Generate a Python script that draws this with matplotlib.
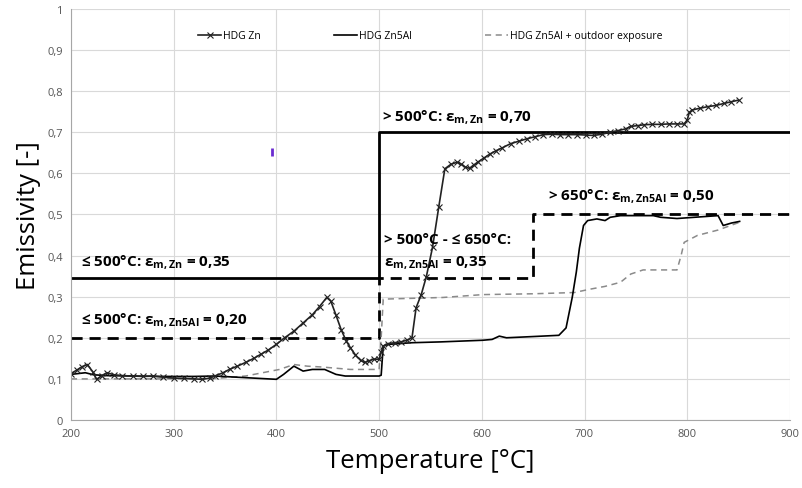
import numpy as np
import matplotlib.pyplot as plt

plt.rcParams['font.family'] = ['Open Sans', 'DejaVu Sans']
plt.rcParams['mathtext.fontset'] = 'custom'
plt.rcParams['mathtext.rm'] = 'Open Sans'
plt.rcParams['mathtext.bf'] = 'Open Sans:bold'

# HDG Zn (line with x markers)
zn_t = [200, 206, 211, 216, 221, 225, 230, 235, 242, 250, 260, 270, 280, 290, 300, 310, 320, 328,
        335, 340, 348, 355, 362, 370, 378, 385, 392, 400, 408, 417, 426, 435, 442, 449, 453, 458,
        463, 468, 472, 477, 482, 486, 490, 495, 500, 502, 504, 509, 515, 521, 527, 532, 536, 541,
        546, 552, 558, 564, 570, 576, 580, 584, 588, 592, 596, 602, 608, 614, 620, 628, 636, 644,
        652, 660, 668, 676, 684, 693, 701, 709, 717, 725, 733, 740, 745, 752, 758, 766, 774, 782,
        790, 797, 800, 802, 805, 812, 820, 828, 836, 843, 850]
zn_e = [0.113, 0.122, 0.130, 0.135, 0.118, 0.099, 0.108, 0.115, 0.110, 0.108, 0.107, 0.106, 0.107,
        0.104, 0.102, 0.101, 0.100, 0.099, 0.102, 0.107, 0.115, 0.124, 0.131, 0.140, 0.150, 0.160,
        0.170, 0.184, 0.200, 0.216, 0.236, 0.256, 0.276, 0.298, 0.289, 0.255, 0.220, 0.192, 0.176,
        0.158, 0.145, 0.140, 0.144, 0.148, 0.148, 0.165, 0.180, 0.186, 0.188, 0.190, 0.194, 0.200,
        0.273, 0.305, 0.349, 0.420, 0.517, 0.611, 0.622, 0.627, 0.622, 0.615, 0.612, 0.620, 0.627,
        0.637, 0.647, 0.655, 0.662, 0.672, 0.678, 0.684, 0.689, 0.694, 0.695, 0.694, 0.694, 0.694,
        0.693, 0.692, 0.695, 0.700, 0.704, 0.708, 0.714, 0.716, 0.718, 0.719, 0.719, 0.720, 0.720,
        0.720, 0.730, 0.748, 0.754, 0.758, 0.762, 0.765, 0.770, 0.774, 0.778]

# HDG Zn5Al (solid)
al_t = [200, 207, 214, 222, 235, 260, 290, 320, 340, 370, 400, 407, 417, 426, 435, 447, 458, 467,
        480, 500, 502, 504, 509, 532, 560, 601, 610, 617, 624, 650, 675, 682, 688, 692, 695, 699,
        703, 712, 720, 725, 735, 767, 774, 790, 807, 830, 835, 843, 851]
al_e = [0.111, 0.113, 0.115, 0.110, 0.108, 0.107, 0.106, 0.106, 0.107, 0.103, 0.099, 0.111, 0.131,
        0.119, 0.123, 0.123, 0.111, 0.107, 0.107, 0.107, 0.109, 0.180, 0.184, 0.188, 0.190, 0.194,
        0.196, 0.204, 0.200, 0.203, 0.206, 0.224, 0.298, 0.360, 0.418, 0.473, 0.485, 0.489, 0.485,
        0.493, 0.497, 0.497, 0.493, 0.490, 0.493, 0.497, 0.473, 0.479, 0.483]

# HDG Zn5Al + outdoor exposure (grey dashed)
ox_t = [200, 232, 280, 340, 370, 403, 417, 430, 444, 472, 500, 502, 504, 562, 601, 650, 690, 705,
        720, 735, 745, 757, 790, 794, 797, 810, 830, 851]
ox_e = [0.100, 0.100, 0.100, 0.101, 0.107, 0.123, 0.135, 0.131, 0.129, 0.123, 0.123, 0.200, 0.294,
        0.298, 0.305, 0.307, 0.310, 0.318, 0.325, 0.335, 0.355, 0.365, 0.365, 0.400, 0.432, 0.449,
        0.462, 0.481]

# mean emissivity steps
zn_step_t = [200, 500, 500, 900]
zn_step_e = [0.345, 0.345, 0.70, 0.70]
al_step_t = [200, 500, 500, 650, 650, 900]
al_step_e = [0.20, 0.20, 0.345, 0.345, 0.50, 0.50]

xticks = [200, 300, 400, 500, 600, 700, 800, 900]
yticks = [0, 0.1, 0.2, 0.3, 0.4, 0.5, 0.6, 0.7, 0.8, 0.9, 1.0]
ytick_labels = ['0', '0,1', '0,2', '0,3', '0,4', '0,5', '0,6', '0,7', '0,8', '0,9', '1']

fig = plt.figure(figsize=(8.02, 4.89), dpi=100)
ax = fig.add_axes([0.0885, 0.139, 0.8965, 0.841])

ax.grid(color='#d9d9d9', lw=0.8)
ax.set_axisbelow(True)

ax.plot(zn_step_t, zn_step_e, color='black', lw=2)
ax.plot(al_step_t, al_step_e, color='black', lw=2, ls=(0, (4, 2.5)))

ax.plot(ox_t, ox_e, color='#8a8a8a', lw=1.1, ls=(0, (4, 3)), label='HDG Zn5Al + outdoor exposure')
ax.plot(al_t, al_e, color='black', lw=1.2, label='HDG Zn5Al')
ax.plot(zn_t, zn_e, color='#222222', lw=1.2, marker='x', ms=4, mew=0.8, label='HDG Zn')

# stray purple tick in the original image
ax.plot([395.7], [0.652], marker='|', color='#6a2bd0', ms=6, mew=2)

fs = 11
ax.text(210, 0.385, r'≤ 500°C: ε$_{\mathbf{m,Zn}}$ = 0,35', fontsize=fs, fontweight='bold', va='center')
ax.text(210, 0.244, r'≤ 500°C: ε$_{\mathbf{m,Zn5Al}}$ = 0,20', fontsize=fs, fontweight='bold', va='center')
ax.text(503, 0.736, r'> 500°C: ε$_{\mathbf{m,Zn}}$ = 0,70', fontsize=fs, fontweight='bold', va='center')
ax.text(505, 0.44, '> 500°C - ≤ 650°C:', fontsize=fs, fontweight='bold', va='center')
ax.text(505, 0.384, r'ε$_{\mathbf{m,Zn5Al}}$ = 0,35', fontsize=fs, fontweight='bold', va='center')
ax.text(664, 0.545, r'> 650°C: ε$_{\mathbf{m,Zn5Al}}$ = 0,50', fontsize=fs, fontweight='bold', va='center')

ax.set_xlim(200, 900)
ax.set_ylim(0, 1)
ax.set_xticks(xticks)
ax.set_yticks(yticks)
ax.set_yticklabels(ytick_labels)
ax.tick_params(length=0, labelsize=8, colors='#555555', pad=6)

for s in ['top', 'right']:
    ax.spines[s].set_visible(False)
for s in ['left', 'bottom']:
    ax.spines[s].set_color('#a6a6a6')

ax.set_xlabel('Temperature [°C]', fontsize=18.5, labelpad=6)
ax.set_ylabel('Emissivity [-]', fontsize=18.5, labelpad=4)

h, l = ax.get_legend_handles_labels()
ax.legend(h[::-1], l[::-1], loc='upper center', bbox_to_anchor=(0.5, 0.97), ncol=3, frameon=False,
          fontsize=7.5, columnspacing=7, handlelength=2.2, handletextpad=0.2)

plt.savefig('out.png')
